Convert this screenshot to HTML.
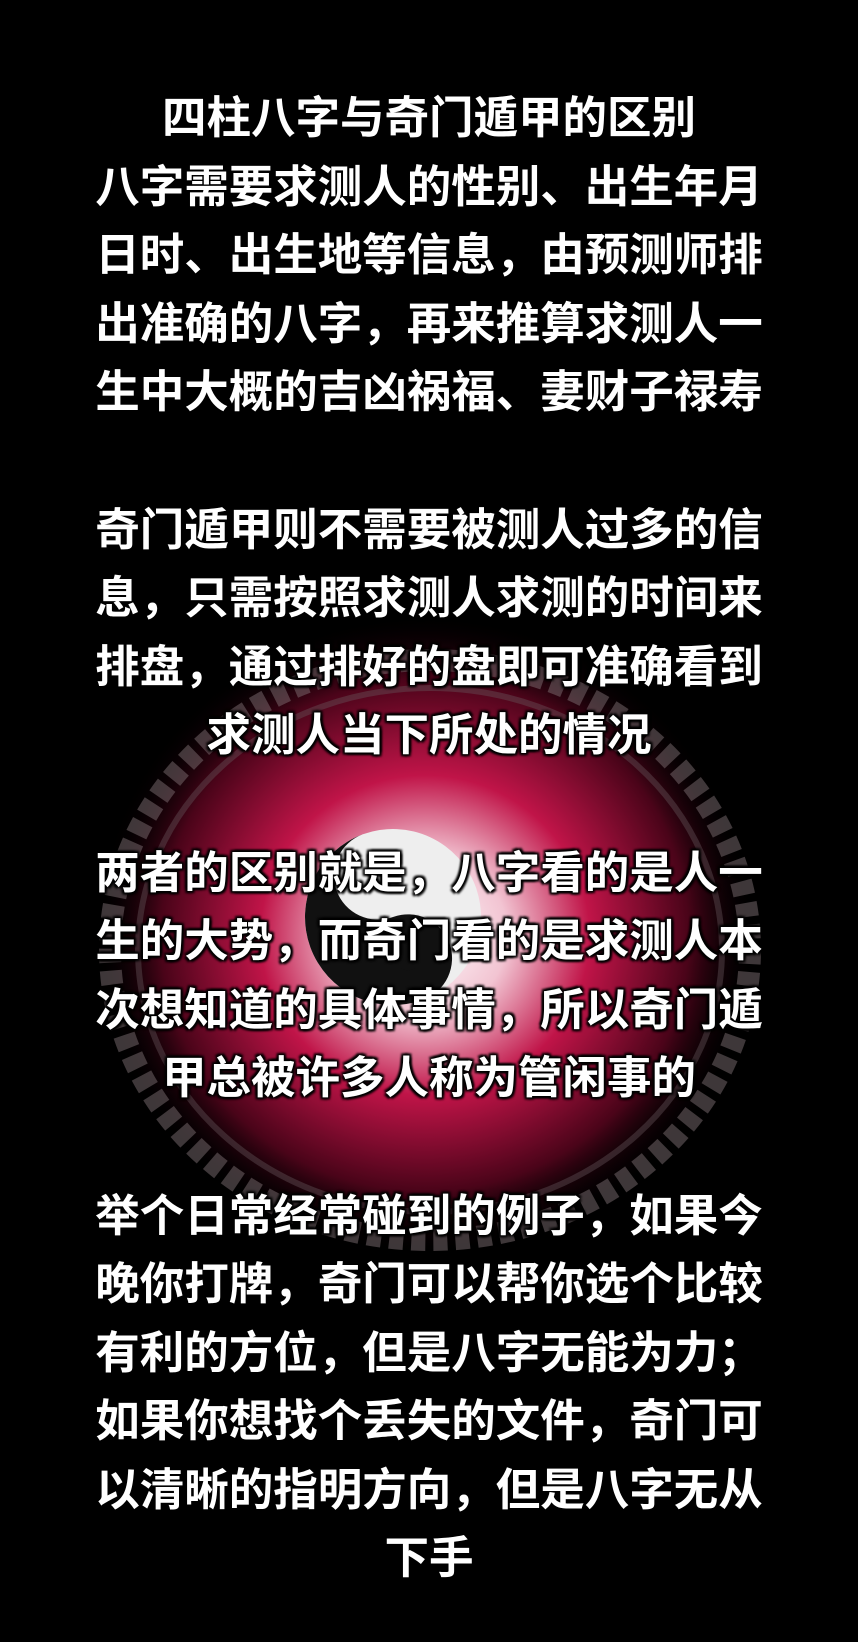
<!DOCTYPE html>
<html><head><meta charset="utf-8">
<style>
html,body{margin:0;padding:0;background:#000;}
#wrap{position:relative;width:858px;height:1642px;overflow:hidden;background:#000;}
#bg{position:absolute;left:0;top:0;}
#text{position:absolute;left:0;top:85px;width:858px;text-align:center;
font-family:"Liberation Sans","Noto Sans CJK SC",sans-serif;font-weight:bold;font-size:44.5px;line-height:68.6px;color:#fff;
text-shadow:0 0 3px #000,2px 2px 2px #000,-2px -2px 2px #000,2px -2px 2px #000,-2px 2px 2px #000;}
.l{height:68.6px;white-space:nowrap;}
</style></head><body>
<div id="wrap">
<svg id="bg" width="858" height="1642">
<defs>
<radialGradient id="glow" cx="0.5" cy="0.5" r="0.5">
<stop offset="0" stop-color="#ffffff"/>
<stop offset="0.25" stop-color="#f2c4d2"/>
<stop offset="0.5" stop-color="#c01448"/>
<stop offset="0.8" stop-color="#4a0419"/>
<stop offset="1" stop-color="#000" stop-opacity="0"/>
</radialGradient>
</defs>
<ellipse cx="425" cy="935" rx="330" ry="320" fill="url(#glow)"/>
<ellipse cx="430" cy="950" rx="320" ry="290" fill="none" stroke="#8a7a7e" stroke-width="22" stroke-dasharray="14 8" opacity="0.45"/>
<ellipse cx="430" cy="950" rx="292" ry="262" fill="none" stroke="#6a5a5e" stroke-width="6" opacity="0.4"/>
<g transform="translate(393,917) rotate(-20)">
<circle r="88" fill="#eee"/>
<path d="M0,-88 A88,88 0 0 0 0,88 A44,44 0 0 0 0,0 A44,44 0 0 1 0,-88Z" fill="#111"/>
<circle cy="-44" r="12" fill="#eee"/>
<circle cy="44" r="12" fill="#111"/>
</g>
</svg>
<div id="text">
<div class="l">四柱八字与奇门遁甲的区别</div>
<div class="l">八字需要求测人的性别、出生年月</div>
<div class="l">日时、出生地等信息，由预测师排</div>
<div class="l">出准确的八字，再来推算求测人一</div>
<div class="l">生中大概的吉凶祸福、妻财子禄寿</div>
<div class="l"></div>
<div class="l">奇门遁甲则不需要被测人过多的信</div>
<div class="l">息，只需按照求测人求测的时间来</div>
<div class="l">排盘，通过排好的盘即可准确看到</div>
<div class="l">求测人当下所处的情况</div>
<div class="l"></div>
<div class="l">两者的区别就是，八字看的是人一</div>
<div class="l">生的大势，而奇门看的是求测人本</div>
<div class="l">次想知道的具体事情，所以奇门遁</div>
<div class="l">甲总被许多人称为管闲事的</div>
<div class="l"></div>
<div class="l">举个日常经常碰到的例子，如果今</div>
<div class="l">晚你打牌，奇门可以帮你选个比较</div>
<div class="l">有利的方位，但是八字无能为力；</div>
<div class="l">如果你想找个丢失的文件，奇门可</div>
<div class="l">以清晰的指明方向，但是八字无从</div>
<div class="l">下手</div>
</div>
</div>
</body></html>
